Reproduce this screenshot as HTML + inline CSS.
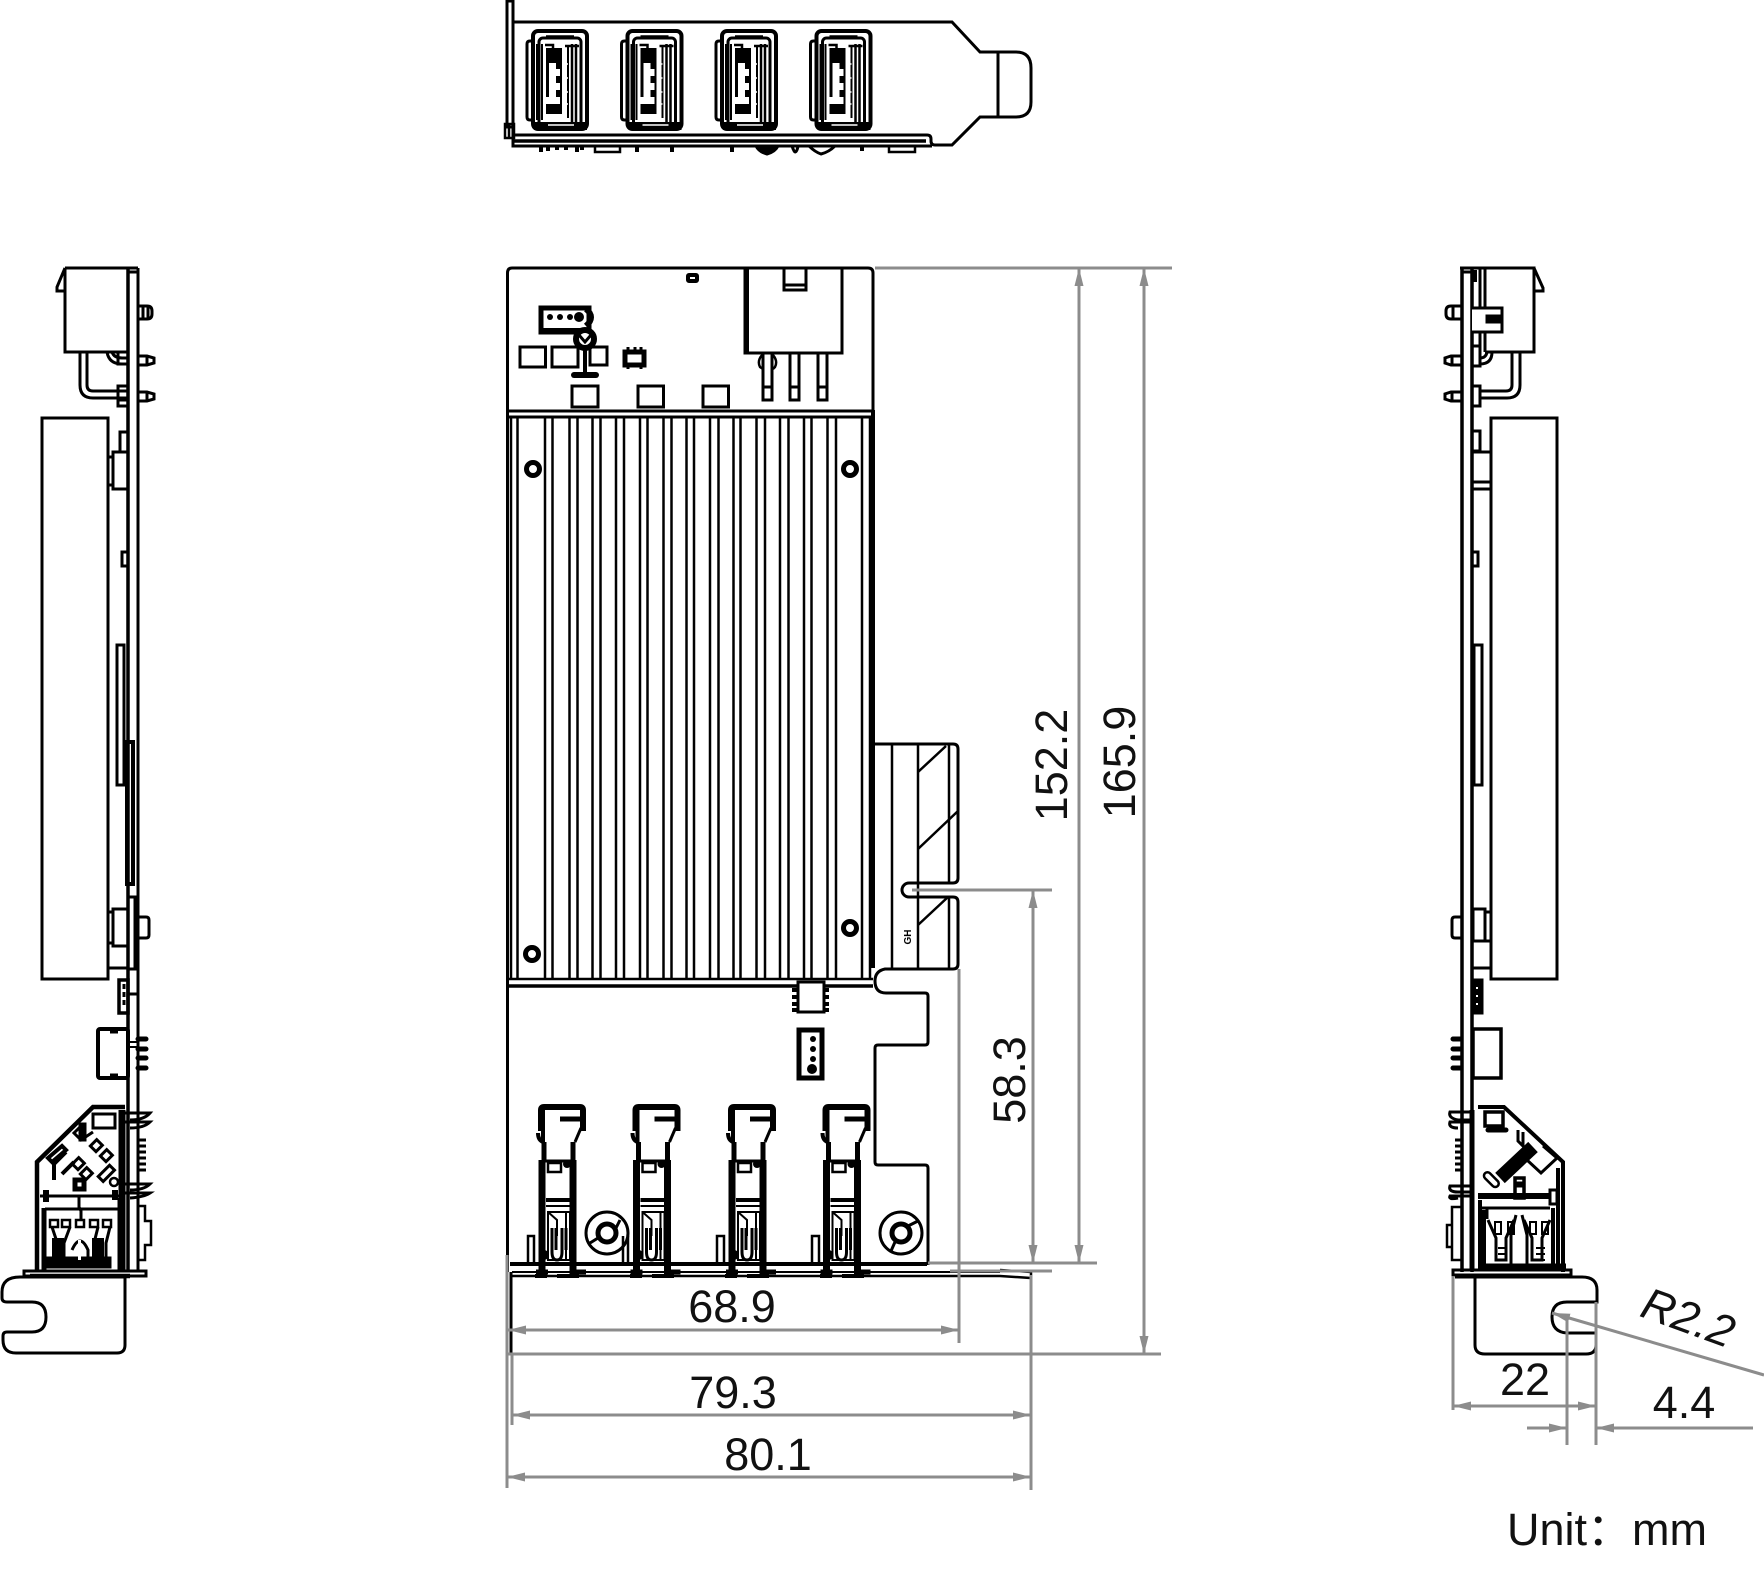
<!DOCTYPE html>
<html><head><meta charset="utf-8"><style>
html,body{margin:0;padding:0;background:#fff}
svg{display:block}
.t{font-family:"Liberation Sans","Noto Sans CJK SC",sans-serif;font-size:45px;fill:#111;text-anchor:middle}
</style></head><body>
<svg width="1764" height="1577" viewBox="0 0 1764 1577" xmlns="http://www.w3.org/2000/svg">
<defs>
<marker id="a" markerUnits="userSpaceOnUse" markerWidth="18" markerHeight="9" viewBox="0 0 18 9" refX="18" refY="4.5" orient="auto-start-reverse"><polygon points="0,0 18,4.5 0,9" fill="#8c8c8c"/></marker>
<g id="usb" fill="none" stroke="#000" stroke-width="3">
<rect x="533" y="31" width="54" height="98" rx="5" stroke-width="4"/>
<path d="M534 41h-4q-3 0-3 3v73q0 3 3 3h4" stroke-width="3"/>
<rect x="539" y="38" width="42" height="88" rx="4" stroke-width="3"/>
<path d="M546 36h28" stroke-width="1.5"/>
<path d="M534 122h53v8h-53z" fill="#000" stroke="none"/>
<path d="M548 125h26" stroke="#fff" stroke-width="1.5"/>
<path d="M537 44v76M542 44v76" stroke-width="2"/>
<path d="M545 45h8v4M565 46h14" stroke-width="2.5"/>
<path d="M572 44v78M576 44v78" stroke-width="2.5"/>
<path d="M568 46v72" stroke-width="2"/>
<path d="M546 48v66h16V48z" fill="#000" stroke="none"/>
<path d="M549 63h7v6h4v7h-4v7h4v7h-4v7h4v7h-15v-7h4v-28z" fill="#fff" stroke="none"/>
<path d="M564 50v62M564 64h4M564 78h4M564 92h4M564 104h4" stroke="#fff" stroke-width="1.5"/>
</g>
<g id="clip" fill="none" stroke="#000" stroke-width="3">
<path d="M541 1131v-21q0-3 3-3h36q3 0 3 3v21" stroke-width="6"/>
<path d="M560 1119h20" stroke-width="5"/>
<path d="M538 1133q0 7 5 9M543 1110v32" stroke-width="4"/>
<path d="M581 1128l-6 14" stroke-width="3"/>
<path d="M544 1142v19M573 1142v19" stroke-width="5"/>
<path d="M544 1161h30" stroke-width="3"/>
<path d="M542 1160v115M573 1160v115" stroke-width="7"/>
<path d="M548 1163h13v9h-13z" stroke-width="2.5"/>
<circle cx="567" cy="1164" r="4" fill="#000" stroke="none"/>
<path d="M546 1200h24" stroke-width="4"/>
<path d="M546 1206h24" stroke-width="2"/>
<path d="M548 1212h18l4 0v48h-22z" stroke-width="2"/>
<path d="M548 1212l9 8v16M566 1212v48" stroke-width="2"/>
<path d="M552 1228v24q0 8 5 8t5-8v-24M556 1228v22M566 1228v22" stroke-width="3"/>
<path d="M536 1272h12M572 1272h14" stroke-width="5"/>
<circle cx="544" cy="1255" r="5" fill="#000" stroke="none"/>
</g>
</defs>

<!-- TOP VIEW -->
<g fill="none" stroke="#000" stroke-width="3">
<path d="M507 1h6v126h-6z"/>
<path d="M505 124h9v14h-9zM509 124v14" stroke-width="2.5"/>
<path d="M513 22H952L980 52H1016Q1031 52 1031 68V102Q1031 117 1016 117H980L952 145H935Q931 145 931 141V139Q931 135 927 135H513"/>
<path d="M513 141H926" stroke-width="3.5"/>
<path d="M513 124V146H932"/>
<path d="M998 52V117"/>
<use href="#usb"/><use href="#usb" x="94.5"/><use href="#usb" x="189"/><use href="#usb" x="283.5"/>
<path d="M541 146v6M548 146v5M557 146v4M566 146v4M577 146v6M582 146v4M637 146v6M672 146v6M732 146v6M862 146v5" stroke-width="4"/>
<path d="M595 146h25v6h-25zM889 146h26v6h-26z" stroke-width="2.5"/>
<path d="M756 146q3 6 11 8q8-2 11-8z" fill="#000"/>
<path d="M792 146q2 6 3 6q2 0 3-6z" stroke-width="3"/>
<path d="M809 146q6 6 12 8q8-2 14-8zM839 146h26" stroke-width="3"/>
</g>

<!-- MAIN BOARD -->
<g fill="none" stroke="#000" stroke-width="3">
<path d="M507.5 1272V273Q507.5 268 512 268H868Q873 268 873 273V410"/>
<path d="M507 411H874" stroke-width="3"/>
<path d="M509 417H873"/>
<path d="M507 979H873" stroke-width="2.5"/>
<path d="M507 986H873" stroke-width="3.5"/>
<path d="M873 410V968" stroke-width="4"/>
<path d="M511 417V979M517.5 417V979M545 417V979M552.5 417V979M569.5 417V979M577.5 417V979M592.5 417V979M600.5 417V979M616 417V979M624 417V979M640 417V979M647.5 417V979M663.5 417V979M671.5 417V979M686.5 417V979M694 417V979M710 417V979M718.5 417V979M733.5 417V979M740.5 417V979M756.5 417V979M765 417V979M780 417V979M788.5 417V979M804 417V979M811.5 417V979M827.5 417V979M836 417V979M862 417V979M870 417V979" stroke-width="2.5"/>
<g stroke-width="5"><circle cx="533" cy="469" r="6.5"/><circle cx="850" cy="469" r="6.5"/><circle cx="850" cy="928" r="6.5"/><circle cx="532" cy="954" r="6.5"/></g>
<rect x="688" y="275" width="9" height="6" rx="1" stroke-width="4"/>
<path d="M745 268V353H842V268" stroke-width="3"/><path d="M747 268V353" stroke-width="4"/>
<path d="M784 268V290H806V268M784 285H806" stroke-width="3"/>
<path d="M763 353V400H772V353M763 387H772M790 353V400H799V353M790 387H799M818 353V400H827V353M818 387H827" stroke-width="3"/>
<path d="M762 355Q757 361 760 367L763 369M773 355Q778 361 775 367L773 369" stroke-width="2.5"/>
<rect x="541" y="308" width="48" height="24" stroke-width="5"/>
<rect x="544" y="312" width="40" height="18" fill="#fff" stroke="none"/>
<path d="M540 331h46" stroke-width="6"/>
<g fill="#000" stroke="none"><circle cx="550" cy="317" r="3"/><circle cx="560" cy="317" r="3"/><circle cx="570" cy="317" r="3"/><circle cx="579" cy="317" r="5"/></g>
<path d="M586 309Q596 317 586 326" stroke-width="6"/>
<rect x="520" y="347" width="25.5" height="20"/><rect x="552" y="347" width="26" height="20"/><rect x="590" y="347" width="17" height="18"/>
<circle cx="585" cy="339" r="9" stroke-width="6" fill="#fff"/>
<path d="M585 345V372" stroke-width="4"/><path d="M579 335l6 7 6-7" stroke="#000" stroke-width="3"/>
<path d="M574 375H596" stroke-width="6" stroke-linecap="round"/>
<path d="M625 352h19v13h-19z" stroke-width="5"/>
<path d="M628 347v5M635 347v5M641 347v5M628 365v4M641 365v4" stroke-width="3"/>
<rect x="572" y="386" width="26" height="21"/><rect x="638" y="386" width="25.5" height="21"/><rect x="703" y="386" width="25.5" height="21"/>

<path d="M873 744H953Q958 744 958 749V878Q958 883 953 883H909A7 7 0 0 0 909 897H953Q958 897 958 902V964Q958 969 953 969H885Q875 971 875 981Q875 993 886 993H925Q928 993 928 996V1042Q928 1045 925 1045H878Q875 1045 875 1048V1162Q875 1165 878 1165H925Q928 1165 928 1168V1265"/>
<path d="M892 744V969M918 744V969M949 744V883M949 897V969" stroke-width="2.5"/>
<path d="M918 772L946 746M918 849L958 811M918 925L948 897" stroke-width="2.5"/>

<rect x="798" y="982" width="26" height="30" fill="#fff" stroke-width="3"/>
<path d="M792 990h6M792 997h6M792 1004h6M792 1010h6M824 990h5M824 997h5M824 1004h5M824 1010h5" stroke-width="4"/>
<rect x="799" y="1030" width="23" height="48" stroke-width="5"/>
<g fill="#000" stroke="none"><circle cx="813" cy="1039" r="3"/><circle cx="813" cy="1049" r="3"/><circle cx="813" cy="1059" r="3"/><circle cx="812" cy="1069" r="5"/></g>

<use href="#clip"/><use href="#clip" x="94.5"/><use href="#clip" x="190"/><use href="#clip" x="284.5"/>
<g stroke-width="3">
<circle cx="607" cy="1233" r="21"/><circle cx="607" cy="1233" r="9" stroke-width="5"/><path d="M590 1243L598 1238M616 1228L620 1220"/>
<circle cx="901" cy="1233" r="21"/><circle cx="901" cy="1233" r="9" stroke-width="5"/><path d="M891 1251L895 1242M908 1226L918 1221"/>
</g>
<path d="M528 1265V1236H534V1265M623 1265V1236M628 1265V1236M717 1265V1236H724V1265M812 1265V1236H819V1265" stroke-width="2.5" />
<path d="M510 1264H927" stroke-width="4"/>
<path d="M512 1272H1000" stroke-width="2"/>
<path d="M510 1276H1000L1031 1278V1272L1000 1270" stroke-width="2.5"/>
<path d="M511 1272V1353" stroke-width="3"/>
<path d="M535 1276h12M630 1276h12M725 1276h12M820 1276h12M557 1276h22M652 1276h22M747 1276h22M842 1276h22" stroke-width="4"/>
</g>
<text x="0" y="0" transform="translate(911,937) rotate(-90)" font-family="Liberation Sans" font-size="10" font-weight="bold" text-anchor="middle" fill="#000">GH</text>

<!-- LEFT VIEW -->
<g fill="none" stroke="#000" stroke-width="3">
<path d="M128 268V1272" stroke-width="3.5"/><path d="M138 268V1272"/>
<path d="M65 268H138M128 272H138"/>
<path d="M65 268V352H128M65 268L57 287V291H65"/>
<path d="M80 352V385Q80 398 93 398H128M87 352V385Q87 391 93 391H128"/>
<path d="M107 352Q109 364 122 364H128M112 352Q114 358 122 358H128"/>
<path d="M138 306H147Q152 306 152 311V314Q152 319 147 319H138M143 306V319M148 307V318"/>
<path d="M138 356H147L154 358V363L147 365H138M138 392H147L154 394V399L147 401H138M147 356V365M147 392V401"/>
<path d="M118 386h10v20h-10zM118 400h10M118 352h10v12h-10z"/>
<path d="M42 418H108V979H42z" stroke-width="3"/>
<path d="M120 432h8v20h-8zM113 452h15v37h-15zM108 457h5v28h-5z"/>
<path d="M122 552h6v14h-6zM117 645h7v140h-7z"/>
<path d="M127 742h6v142h-6z" stroke-width="4"/>
<path d="M113 909h15v37h-15zM108 912h5v31h-5zM138 917h8q3 0 3 3v15q0 3-3 3h-8M108 968H128"/>
<path d="M128 897h7v72h-7z" stroke-width="3"/>
<path d="M119 980h9v33h-9z" stroke-width="3.5"/><path d="M124 984v24" stroke-width="3" stroke-dasharray="5 3"/><path d="M128 994h9" stroke-width="3"/>
<rect x="98" y="1029" width="30" height="49" rx="2" stroke-width="4"/>
<path d="M110 1031h8M110 1076h8" stroke-width="5"/>
<path d="M138 1039h8M138 1049h8M138 1058h8M138 1068h8" stroke-width="5" stroke-linecap="round"/>
<path d="M128 1042h10M128 1047h10" stroke-width="2"/>
<!-- octagon left -->
<path d="M37 1272V1162L93 1107H125" stroke-width="4.5"/>
<path d="M40 1196H120M45 1209H118" stroke-width="3"/>
<path d="M122 1110V1270" stroke-width="7"/>
<path d="M120 1113H150Q144 1120 130 1120M120 1122H150Q144 1128 130 1128M122 1184H150Q144 1190 130 1190M122 1193H150Q144 1197 130 1198" stroke-width="3"/>
<path d="M138 1140h8M138 1146h8M138 1152h8M138 1158h8M138 1164h8M138 1170h8" stroke-width="3"/>
<path d="M93 1114h22v14H93z" stroke-width="3"/>
<path d="M82 1125l-8 8 7 7 12-8" stroke-width="3"/>
<path d="M80 1124v16h5v-16z" fill="#000"/>
<path d="M48 1158l14-12 4 4-14 12zM54 1180v-16l12-12M62 1174l12-12" stroke-width="4"/>
<g stroke-width="3"><rect x="92" y="1142" width="9" height="8" transform="rotate(-45 96 1146)"/><rect x="102" y="1152" width="9" height="8" transform="rotate(-45 106 1156)"/><rect x="74" y="1160" width="9" height="8" transform="rotate(-45 78 1164)"/><rect x="82" y="1170" width="9" height="8" transform="rotate(-45 86 1174)"/><rect x="98" y="1170" width="16" height="7" transform="rotate(-45 106 1173)"/></g>
<circle cx="114" cy="1182" r="4" stroke-width="2.5"/>
<rect x="75" y="1180" width="9" height="9" stroke-width="5"/>
<path d="M46 1190v12M115 1190v10" stroke-width="6"/>
<path d="M79 1195v12l2 4v8" stroke-width="3"/>
<path d="M44 1208v62M120 1198v72" stroke-width="5"/>
<rect x="50" y="1220" width="8" height="7" stroke-width="2.5"/><rect x="62" y="1220" width="8" height="7" stroke-width="2.5"/><rect x="76" y="1220" width="8" height="7" stroke-width="2.5"/><rect x="90" y="1220" width="8" height="7" stroke-width="2.5"/><rect x="103" y="1220" width="8" height="7" stroke-width="2.5"/>
<path d="M52 1227l5 15v15M70 1227l-6 16v15M98 1227l-4 16v15M110 1227l-4 16v15M72 1250q8-18 16 0v8" stroke-width="3"/>
<path d="M48 1258h62v9H48z" fill="#000"/>
<path d="M52 1238h12v21h-12zM92 1238h12v21h-12z" fill="#000" stroke="none"/>
<path d="M78 1240h3v20h-3z" fill="#fff" stroke="none"/>
<path d="M138 1206h7v15h6v24h-6v15h-7" stroke-width="2.5"/>
<path d="M24 1271h122v5H24z" stroke-width="3"/>
<path d="M30 1276h100" stroke-width="4.5"/>
<path d="M125 1277V1345Q125 1353 117 1353H16Q3 1353 3 1340V1336Q3 1332 7 1332H32Q46 1332 46 1317T32 1302H7Q2 1302 2 1298V1292Q2 1277 20 1277H125"/>
</g>

<!-- RIGHT VIEW -->
<g fill="none" stroke="#000" stroke-width="3">
<path d="M1462 268V1272" stroke-width="3.5"/><path d="M1472 268V1272" stroke-width="3.5"/>
<path d="M1460 268H1534V352H1485M1534 268L1543 288V291H1534M1462 272H1472"/>
<path d="M1480 268V352M1485 268V352"/>
<path d="M1472 308H1502V332H1472" fill="#fff"/><path d="M1487 316h14v6h-14z" fill="#000"/>
<rect x="1473" y="270" width="4" height="12" fill="#000" stroke="none"/>
<path d="M1512 352V385Q1512 391 1506 391H1480M1520 352V385Q1520 398 1507 398H1480"/>
<path d="M1480 364Q1492 364 1492 352M1480 358Q1486 358 1487 352"/>
<path d="M1462 306H1451Q1446 306 1446 311V314Q1446 319 1451 319H1462M1453 306V319"/>
<path d="M1462 356H1451L1445 358V363L1451 365H1462M1462 392H1451L1445 394V399L1451 401H1462M1452 356V365M1452 392V401"/>
<path d="M1472 346h8v20h-8zM1472 386h8v20h-8z"/>
<path d="M1491 418H1557V979H1491z"/>
<path d="M1472 431h8v20h-8zM1472 452h19v37h-19zM1472 482h19M1476 482h10"/>
<path d="M1472 552h6v14h-6zM1474 645h8v140h-8z"/>
<path d="M1473 909h12v32h-12zM1485 912h6v29h-6zM1462 917h-7q-3 0-3 3v15q0 3 3 3h7M1472 968H1491"/>
<path d="M1472 980h10v33h-10z" fill="#000"/>
<path d="M1476 988h2M1476 996h2M1476 1004h2" stroke="#fff" stroke-width="2"/>
<rect x="1473" y="1029" width="28" height="49" stroke-width="3.5"/>
<path d="M1453 1039h8M1453 1049h8M1453 1058h8M1453 1068h8" stroke-width="5" stroke-linecap="round"/>
<path d="M1472 1110V1270" stroke-width="5"/>
<path d="M1478 1107H1504L1563 1162V1272" stroke-width="4"/>
<path d="M1485 1112h18v14h-18z" stroke-width="3.5"/>
<path d="M1488 1130h18" stroke-width="5" stroke-linecap="round"/>
<path d="M1518 1130v11l5 5v-14" stroke-width="3"/>
<path d="M1500 1178L1533 1147" stroke-width="14"/>
<path d="M1527 1160l14 13 16-15-14-12" stroke-width="3"/>
<rect x="1482" y="1176" width="18" height="7" rx="3.5" transform="rotate(45 1491 1180)" stroke-width="2.5"/>
<path d="M1515 1178h9v20h-9z" stroke-width="3.5"/><rect x="1518" y="1183" width="3" height="3" fill="#000"/>
<path d="M1478 1196h72" stroke-width="6"/>
<path d="M1550 1190h7v14h-7z"/>
<path d="M1482 1208h68M1487 1209v10" stroke-width="3"/>
<path d="M1480 1200v70M1484 1210v60M1558 1168v102M1553 1208v62" stroke-width="4"/>
<path d="M1488 1220l8 18v22h10v-22l8-18M1524 1220l8 18v22h10v-22l8-18M1516 1215l-5 20v32M1522 1215l5 20v32" stroke-width="3"/>
<path d="M1495 1222h6v12h-6zM1508 1222h6v12h-6zM1530 1222h6v12h-6zM1542 1222h6v12h-6z" stroke-width="2"/>
<path d="M1498 1248h9M1498 1254h9M1498 1260h9M1536 1248h9M1536 1254h9M1536 1260h9" stroke-width="2"/>
<path d="M1478 1266h88" stroke-width="5"/>
<path d="M1452 1207h10v53h-10zM1447 1225h5v22h-5z" stroke-width="2.5"/>
<path d="M1472 1112H1450Q1448 1118 1458 1120H1472M1472 1122H1450Q1448 1128 1458 1128M1472 1186H1450Q1448 1192 1458 1192H1472M1472 1196H1450Q1448 1200 1458 1198" stroke-width="3"/>
<path d="M1455 1140h7M1455 1146h7M1455 1152h7M1455 1158h7M1455 1164h7M1455 1170h7" stroke-width="3"/>
<path d="M1453 1270h118v5h-118z" stroke-width="3"/><path d="M1455 1276H1560" stroke-width="5"/>
<path d="M1475 1277V1345Q1475 1354 1485 1354H1586Q1596 1354 1596 1345V1333H1567Q1552 1332 1552 1317T1567 1302H1597V1290Q1597 1277 1582 1277H1475"/>
</g>

<!-- DIMENSIONS -->
<g fill="none" stroke="#8c8c8c" stroke-width="3">
<path d="M875 268H1172"/>
<path d="M928 1263H1097"/>
<path d="M950 1271H1052"/>
<path d="M912 890H1052"/>
<path d="M507 1354H1161"/>
<path d="M1033 890V1263" marker-start="url(#a)" marker-end="url(#a)"/>
<path d="M1079 268V1263" marker-start="url(#a)" marker-end="url(#a)"/>
<path d="M1144 268V1354" marker-start="url(#a)" marker-end="url(#a)"/>
<path d="M959 969V1343"/>
<path d="M507 1255V1488"/>
<path d="M512 1354V1425"/>
<path d="M1031 1275V1490"/>
<path d="M508 1330H959" marker-start="url(#a)" marker-end="url(#a)"/>
<path d="M512 1415H1031" marker-start="url(#a)" marker-end="url(#a)"/>
<path d="M507 1477H1031" marker-start="url(#a)" marker-end="url(#a)"/>
<path d="M1453 1277V1410"/>
<path d="M1596 1302V1445"/>
<path d="M1567 1318V1445"/>
<path d="M1453 1406H1596" marker-start="url(#a)" marker-end="url(#a)"/>
<path d="M1527 1428H1567" marker-end="url(#a)"/>
<path d="M1753 1428H1596" marker-end="url(#a)"/>
<path d="M1764 1375L1552 1313" marker-end="url(#a)"/>
</g>

<text class="t" x="732" y="1322">68.9</text>
<text class="t" x="733" y="1408">79.3</text>
<text class="t" x="768" y="1470">80.1</text>
<text class="t" transform="translate(1067,765) rotate(-90)">152.2</text>
<text class="t" transform="translate(1135,762) rotate(-90)">165.9</text>
<text class="t" transform="translate(1025,1080) rotate(-90)">58.3</text>
<text class="t" x="1525" y="1395">22</text>
<text class="t" x="1684" y="1418">4.4</text>
<text class="t" font-style="italic" transform="translate(1683,1332) rotate(20)">R2.2</text>
<text class="t" x="1607" y="1545" font-size="44">Unit：mm</text>
</svg>
</body></html>
